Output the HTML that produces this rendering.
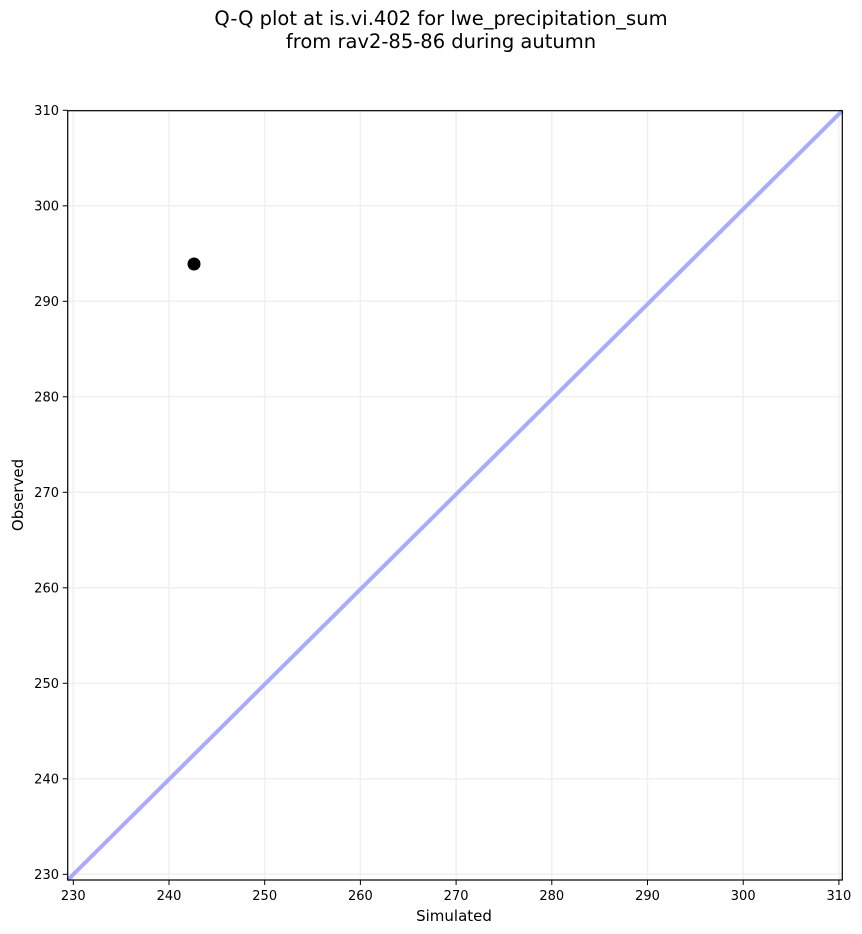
<!DOCTYPE html>
<html><head><meta charset="utf-8"><style>body{margin:0;background:#fff}svg{display:block}text{font-family:"DejaVu Sans","Liberation Sans",sans-serif}</style></head><body>
<svg width="862" height="934" xmlns="http://www.w3.org/2000/svg">
<rect width="862" height="934" fill="#fff"/>
<text x="441" y="25" font-size="19.5" text-anchor="middle">Q-Q plot at is.vi.402 for lwe_precipitation_sum</text>
<text x="441" y="48" font-size="19.5" text-anchor="middle">from rav2-85-86 during autumn</text>
<g stroke="#f0f0f0" stroke-width="1.5">
<line x1="73.3" y1="110.7" x2="73.3" y2="880"/><line x1="169" y1="110.7" x2="169" y2="880"/><line x1="264.7" y1="110.7" x2="264.7" y2="880"/><line x1="360.4" y1="110.7" x2="360.4" y2="880"/><line x1="456.1" y1="110.7" x2="456.1" y2="880"/><line x1="551.8" y1="110.7" x2="551.8" y2="880"/><line x1="647.5" y1="110.7" x2="647.5" y2="880"/><line x1="743.2" y1="110.7" x2="743.2" y2="880"/><line x1="838.9" y1="110.7" x2="838.9" y2="880"/>
<line x1="67.7" y1="874.3" x2="842.3" y2="874.3"/><line x1="67.7" y1="778.8" x2="842.3" y2="778.8"/><line x1="67.7" y1="683.3" x2="842.3" y2="683.3"/><line x1="67.7" y1="587.8" x2="842.3" y2="587.8"/><line x1="67.7" y1="492.3" x2="842.3" y2="492.3"/><line x1="67.7" y1="396.8" x2="842.3" y2="396.8"/><line x1="67.7" y1="301.3" x2="842.3" y2="301.3"/><line x1="67.7" y1="205.8" x2="842.3" y2="205.8"/><line x1="67.7" y1="110.3" x2="842.3" y2="110.3"/>
</g>
<line x1="67.7" y1="880" x2="842.3" y2="110.7" stroke="#aaaaff" stroke-width="4"/>
<circle cx="194" cy="264" r="6.5" fill="#000"/>
<rect x="67.7" y="110.7" width="774.6" height="769.3" fill="none" stroke="#000" stroke-width="1.2"/>
<g stroke="#000" stroke-width="1">
<line x1="73.3" y1="880" x2="73.3" y2="885"/><line x1="169" y1="880" x2="169" y2="885"/><line x1="264.7" y1="880" x2="264.7" y2="885"/><line x1="360.4" y1="880" x2="360.4" y2="885"/><line x1="456.1" y1="880" x2="456.1" y2="885"/><line x1="551.8" y1="880" x2="551.8" y2="885"/><line x1="647.5" y1="880" x2="647.5" y2="885"/><line x1="743.2" y1="880" x2="743.2" y2="885"/><line x1="838.9" y1="880" x2="838.9" y2="885"/>
<line x1="62.7" y1="874.3" x2="67.7" y2="874.3"/><line x1="62.7" y1="778.8" x2="67.7" y2="778.8"/><line x1="62.7" y1="683.3" x2="67.7" y2="683.3"/><line x1="62.7" y1="587.8" x2="67.7" y2="587.8"/><line x1="62.7" y1="492.3" x2="67.7" y2="492.3"/><line x1="62.7" y1="396.8" x2="67.7" y2="396.8"/><line x1="62.7" y1="301.3" x2="67.7" y2="301.3"/><line x1="62.7" y1="205.8" x2="67.7" y2="205.8"/><line x1="62.7" y1="110.3" x2="67.7" y2="110.3"/>
</g>
<g font-size="13" text-anchor="middle">
<text x="73.3" y="900">230</text><text x="169" y="900">240</text><text x="264.7" y="900">250</text><text x="360.4" y="900">260</text><text x="456.1" y="900">270</text><text x="551.8" y="900">280</text><text x="647.5" y="900">290</text><text x="743.2" y="900">300</text><text x="838.9" y="900">310</text>
</g>
<g font-size="13" text-anchor="end">
<text x="59" y="879">230</text><text x="59" y="783.5">240</text><text x="59" y="688">250</text><text x="59" y="592.5">260</text><text x="59" y="497">270</text><text x="59" y="401.5">280</text><text x="59" y="306">290</text><text x="59" y="210.5">300</text><text x="59" y="115">310</text>
</g>
<text x="454" y="921" font-size="15" text-anchor="middle">Simulated</text>
<text transform="translate(23,495) rotate(-90)" font-size="15" text-anchor="middle">Observed</text>
</svg>
</body></html>
